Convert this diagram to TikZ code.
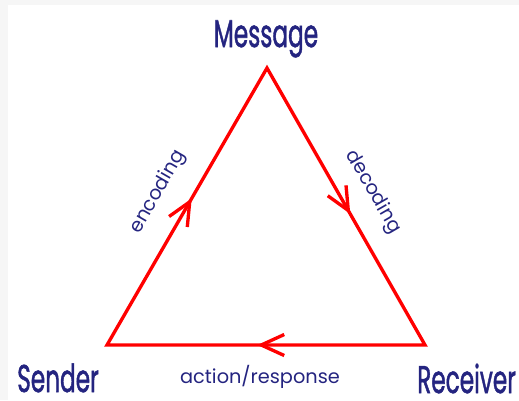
\documentclass[tikz,border=0pt]{standalone}
\usepackage{fontspec}
\setmainfont{Poppins}
\newfontfamily\titlefont[FakeBold=1.6]{Poppins}
\usetikzlibrary{arrows.meta,decorations.markings}

\definecolor{ink}{RGB}{36,36,128}

\tikzset{
  party/.style={text=ink,inner sep=0pt,font=\titlefont\fontsize{22}{22}\selectfont,xscale=0.6},
  step label/.style={text=ink,inner sep=0pt,font=\fontsize{11}{11}\selectfont},
  flow/.style={red,line width=1.9pt,postaction={decorate},
    decoration={markings,
      mark=at position 0.177 with {\arrow{Straight Barb[length=4.6mm,width=4.2mm]}},
      mark=at position 0.51 with {\arrow{Straight Barb[length=4.6mm,width=4.2mm]}},
      mark=at position 0.843 with {\arrow{Straight Barb[length=4.6mm,width=4.2mm]}}}}
}

\begin{document}
\begin{tikzpicture}[x=0.02cm,y=-0.02cm]
  \useasboundingbox (0,0) rectangle (519,400);
  \fill[gray!7] (0,0) rectangle (519,5);
  \fill[gray!7] (0,0) rectangle (8,400);

  % corners of the triangle
  \coordinate (sender) at (107,345);
  \coordinate (message) at (267,68);
  \coordinate (receiver) at (425,345);

  \draw[flow] (sender) -- (message) -- (receiver) -- cycle;

  \node[party,anchor=base] (msg) at (266,47) {Message};
  \node[party,anchor=base] (snd) at (58,392) {Sender};
  \node[party,anchor=base west] (rcv) at (417,393) {Receiver};

  \node[step label,rotate=60] (enc) at (158,192) {encoding};
  \node[step label,rotate=-60] (dec) at (373,192) {decoding};
  \node[step label,anchor=base] (act) at (260,383) {action/response};
\end{tikzpicture}
\end{document}
